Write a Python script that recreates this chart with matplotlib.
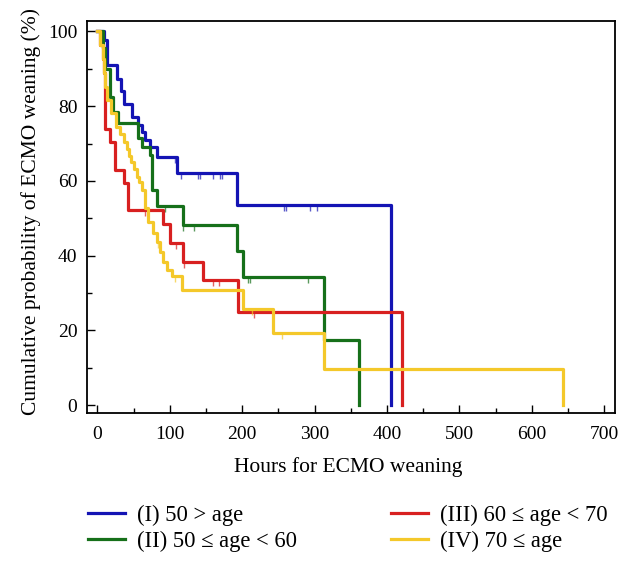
import matplotlib
matplotlib.use("Agg")
import matplotlib.pyplot as plt
from matplotlib.ticker import MultipleLocator

plt.rcParams['font.family'] = ['Liberation Serif', 'DejaVu Serif']

# Kaplan-Meier style curves (hours, cumulative probability %)
t_I = [0, 9, 13.5, 27, 32.5, 37, 48, 56.5, 62, 66, 72.6, 82, 110, 192.4, 405]
s_I = [100, 97.7, 91, 87.3, 84, 80.5, 77, 75, 73.2, 70.9, 69.2, 66.5, 62, 53.5, 0]
cens_t_I = [107, 116, 139, 141, 160, 169, 172, 258, 261, 294, 303]
cens_s_I = [66.5, 62, 62, 62, 62, 62, 62, 53.5, 53.5, 53.5, 53.5]

t_II = [0, 8, 11, 17, 22, 29, 56.5, 61.2, 72.6, 75, 82, 117.5, 193, 200.5, 313, 361]
s_II = [100, 95.5, 90, 82.5, 78.5, 75.4, 71.4, 69.2, 66.9, 57.6, 53.3, 48.2, 41.3, 34.4, 17.4, 0]
cens_t_II = [93, 118, 134, 208, 211, 291]
cens_s_II = [53.3, 48.2, 48.2, 34.4, 34.4, 34.4]

t_III = [0, 4, 7, 9.5, 10.5, 17.4, 24.3, 37.2, 42.8, 91, 100, 118.6, 145.4, 193.5, 421]
s_III = [100, 96.3, 92.6, 88.9, 74, 70.5, 63, 59.4, 52.2, 48.6, 43.3, 38.4, 33.5, 25, 0]
cens_t_III = [65.7, 108.6, 120, 159, 168, 216]
cens_s_III = [52.2, 43.3, 38.4, 33.5, 33.5, 25]

t_IV = [0, 4, 7, 9, 11, 13, 19, 25, 31, 37, 40.5, 43, 46.5, 50, 54, 57.5, 61, 65.7,
        70.3, 76.3, 82, 86.5, 91, 96.5, 102.6, 116.4, 200.7, 242, 313, 642.6]
s_IV = [100, 96.3, 92.6, 88.9, 85.2, 81.7, 78.1, 74.5, 72.5, 70.5, 68.5, 66.8, 65, 63.2,
        61.1, 59.8, 57.6, 52.7, 49.1, 46, 43.7, 41, 38.4, 36.1, 34.5, 30.8, 25.6, 19.2, 9.8, 0]
cens_t_IV = [83, 107, 214, 255]
cens_s_IV = [43.7, 34.5, 25.6, 19.2]

labels = ['(I) 50 > age', '(II) 50 \u2264 age < 60', '(III) 60 \u2264 age < 70', '(IV) 70 \u2264 age']
colors = ['#1414b4', '#16701a', '#d82020', '#f4c82a']

fig = plt.figure(figsize=(6.32, 5.67), dpi=100)
ax = fig.add_axes([0.1377, 0.2716, 0.8354, 0.6914])

groups = [(t_I, s_I, cens_t_I, cens_s_I), (t_II, s_II, cens_t_II, cens_s_II),
          (t_III, s_III, cens_t_III, cens_s_III), (t_IV, s_IV, cens_t_IV, cens_s_IV)]
handles = []
for (t, s, ct, cs), lab, c in zip(groups, labels, colors):
    h, = ax.step(t, s, where='post', color=c, lw=2.3, label=lab)
    ax.plot(ct, [v - 0.8 for v in cs], ls='none', marker='|', ms=5, mew=1, color=c, alpha=0.7)
    handles.append(h)

ax.set_xlim(-14.4, 715)
ax.set_ylim(-2.1, 102.8)
ax.xaxis.set_major_locator(MultipleLocator(100))
ax.xaxis.set_minor_locator(MultipleLocator(50))
ax.yaxis.set_major_locator(MultipleLocator(20))
ax.yaxis.set_minor_locator(MultipleLocator(10))
ax.tick_params(which='both', direction='in', top=False, right=False, labelsize=14)
ax.tick_params(which='major', length=6, width=1)
ax.tick_params(which='minor', length=3.5, width=1)
ax.tick_params(axis='x', pad=9)
ax.tick_params(axis='y', pad=7)
for sp in ax.spines.values():
    sp.set_linewidth(1.3)

ax.set_xlabel('Hours for ECMO weaning', fontsize=15.5)
ax.set_ylabel('Cumulative probability of ECMO weaning (%)', fontsize=15.5)
ax.xaxis.set_label_coords(0.494, -0.112)
ax.yaxis.set_label_coords(-0.087, 0.515)

fig.legend(handles=handles, labels=labels, ncol=2, loc='center left',
           bbox_to_anchor=(0.139, 0.068), frameon=False, fontsize=16.3,
           handlelength=1.64, handletextpad=0.53, columnspacing=4.15,
           labelspacing=0.2, borderpad=0, borderaxespad=0)

fig.savefig('out.png', dpi=100)
